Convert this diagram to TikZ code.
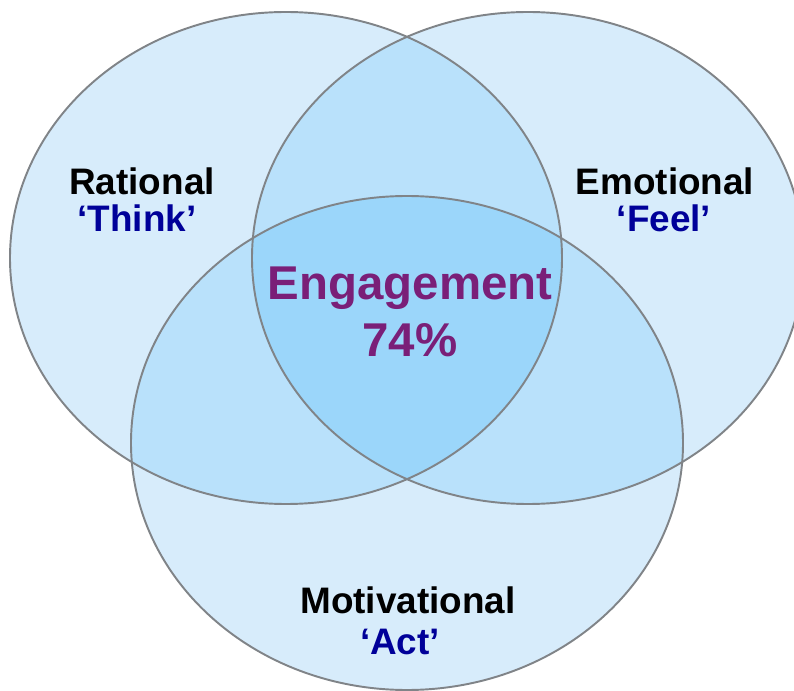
\documentclass[tikz,border=0pt]{standalone}
\usepackage{fontspec}
\setmainfont{Liberation Sans}
\usepackage{xcolor}
\usepackage{tikz}

\definecolor{oneset}{RGB}{215,236,251}
\definecolor{twosets}{RGB}{185,225,251}
\definecolor{threesets}{RGB}{155,214,250}
\definecolor{rim}{RGB}{128,132,136}
\definecolor{wordblue}{RGB}{0,0,153}
\definecolor{engpurple}{RGB}{122,31,120}

\begin{document}
\begin{tikzpicture}[x=0.02cm, y=0.02cm,
    rim/.style={draw=rim, line width=1.1pt},
    label/.style={font=\fontsize{21}{25}\selectfont\bfseries, anchor=base},
    word/.style={label, text=wordblue}]
        \clip (0,0) rectangle (794,690);

        % Plain fill of the three sets
        \fill[oneset] (286,432) ellipse [x radius=276, y radius=246];
        \fill[oneset] (528,432) ellipse [x radius=276, y radius=246];
        \fill[oneset] (407,247) ellipse [x radius=276, y radius=247];

        % Pairwise overlaps
        \begin{scope}
            \clip (286,432) ellipse [x radius=276, y radius=246];
            \fill[twosets] (528,432) ellipse [x radius=276, y radius=246];
            \fill[twosets] (407,247) ellipse [x radius=276, y radius=247];
        \end{scope}
        \begin{scope}
            \clip (528,432) ellipse [x radius=276, y radius=246];
            \fill[twosets] (407,247) ellipse [x radius=276, y radius=247];
        \end{scope}

        % Middle where all three meet
        \begin{scope}
            \clip (286,432) ellipse [x radius=276, y radius=246];
            \clip (528,432) ellipse [x radius=276, y radius=246];
            \fill[threesets] (407,247) ellipse [x radius=276, y radius=247];
        \end{scope}

        % Outlines on top
        \draw[rim] (286,432) ellipse [x radius=276, y radius=246];
        \draw[rim] (528,432) ellipse [x radius=276, y radius=246];
        \draw[rim] (407,247) ellipse [x radius=276, y radius=247];

        % Set labels
        \node[label] (rational) at (142,495) {Rational};
        \node[word] (think) at (137,458) {‘Think’};
        \node[label] (emotional) at (665,495) {Emotional};
        \node[word] (feel) at (664,458) {‘Feel’};
        \node[label] (motivational) at (408,77) {Motivational};
        \node[word] (act) at (400,36) {‘Act’};

        % Centre
        \node[label, font=\fontsize{27}{32}\selectfont\bfseries, text=engpurple] (engagement) at (410,390) {Engagement};
        \node[label, font=\fontsize{27}{32}\selectfont\bfseries, text=engpurple] (score) at (410,333) {74\%};
    \end{tikzpicture}
\end{document}
